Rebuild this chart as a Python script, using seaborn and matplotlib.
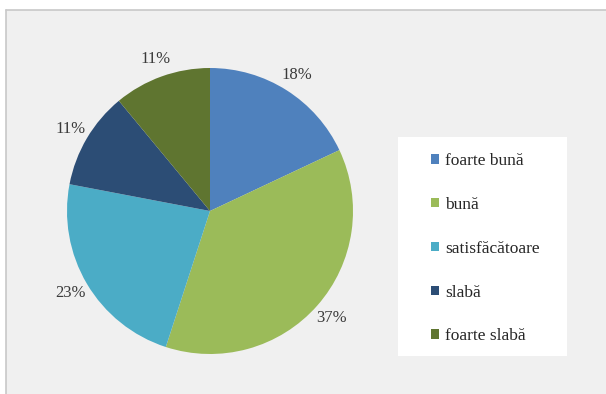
import numpy as np
import matplotlib
matplotlib.use("Agg")
import matplotlib.pyplot as plt
import seaborn as sns
from matplotlib.patches import Rectangle

categories = ["foarte bună", "bună", "satisfăcătoare", "slabă", "foarte slabă"]
percents = [18, 37, 23, 11, 11]
colors = ["#4F81BD", "#9BBB59", "#4BACC6", "#2C4D75", "#5F7530"]

sns.set_theme(style="white")
plt.rcParams["font.family"] = ["Liberation Serif", "DejaVu Serif"]

W, H = 606, 394
fig = plt.figure(figsize=(W / 100, H / 100), dpi=100)
fig.patch.set_facecolor("white")

# gray chart area with a thin border on the left and top
fig.patches.append(Rectangle((6 / W, 0), 1 - 6 / W, 1 - 10 / H, transform=fig.transFigure,
                             facecolor="#F0F0F0", edgecolor="none", zorder=-5))
fig.lines.append(plt.Line2D([6 / W, 6 / W], [0, 1 - 10 / H], transform=fig.transFigure,
                            color="#C8C8C8", lw=1.2, zorder=-4))
fig.lines.append(plt.Line2D([6 / W, 1], [1 - 10 / H, 1 - 10 / H], transform=fig.transFigure,
                            color="#C8C8C8", lw=1.2, zorder=-4))
# white legend box
fig.patches.append(Rectangle((398 / W, (H - 356) / H), 169 / W, 219 / H, transform=fig.transFigure,
                             facecolor="white", edgecolor="none", zorder=-3))

# pie axes: centre about (210, 211), radius about 143 px
cx, cy, r = 210, 211, 143
ax = fig.add_axes([(cx - r) / W, (H - cy - r) / H, 2 * r / W, 2 * r / H])
ax.set_facecolor("none")
wedges, texts, autotexts = ax.pie(
    percents,
    colors=colors,
    startangle=90,
    counterclock=False,
    autopct="%d%%",
    pctdistance=1.13,
    wedgeprops=dict(linewidth=0),
    textprops=dict(fontsize=12, color="#3A3A3A"),
)
ax.set_xlim(-1, 1)
ax.set_ylim(-1, 1)
ax.set_aspect("equal")
ax.axis("off")

leg = fig.legend(
    wedges, categories,
    loc="upper left",
    bbox_to_anchor=(426 / W, 1 - 148 / H),
    frameon=False,
    fontsize=12.5,
    handlelength=0.45,
    handleheight=0.45,
    handletextpad=0.35,
    labelspacing=1.6,
    borderpad=0.3,
    borderaxespad=0,
)
for t in leg.get_texts():
    t.set_color("#262626")

fig.savefig("out.png", dpi=100, facecolor=fig.get_facecolor())
